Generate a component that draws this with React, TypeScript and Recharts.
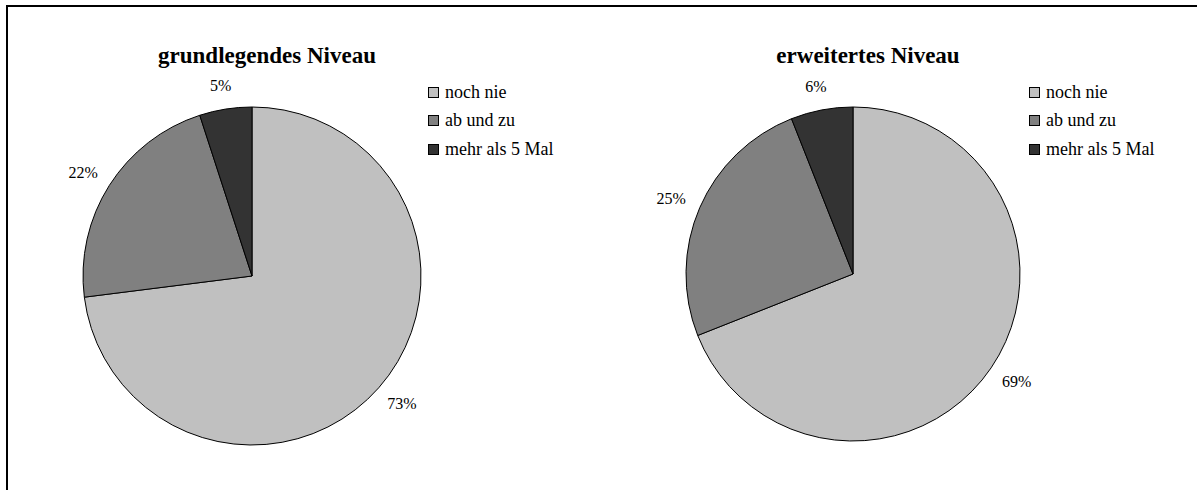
import { Cell, Legend, Pie, PieChart } from "recharts";

const categories = ["noch nie", "ab und zu", "mehr als 5 Mal"];
const basicValues = [73, 22, 5];
const advancedValues = [69, 25, 6];
const titles = ["grundlegendes Niveau", "erweitertes Niveau"];

const FILLS = ["#c0c0c0", "#808080", "#333333"];
const FONT = "'Liberation Serif', 'DejaVu Serif', serif";
const RAD = Math.PI / 180;

const toRows = (values: number[]) =>
  categories.map((name, i) => ({ name, value: values[i] }));

// outside-end labels, nudged away from the pie by half the text box
function renderLabel(props: any) {
  const { cx, cy, midAngle, outerRadius, value } = props;
  const dx = Math.cos(-midAngle * RAD);
  const dy = Math.sin(-midAngle * RAD);
  const r = outerRadius + 15;
  const x = cx + dx * r + dx * 16;
  const y = cy + dy * r + dy * 9;
  return (
    <text
      x={x}
      y={y}
      textAnchor="middle"
      dominantBaseline="central"
      fill="#000"
      fontFamily={FONT}
      fontSize={16}
    >
      {`${value}%`}
    </text>
  );
}

// keep the legend in data order (recharts sorts it by name otherwise)
function LegendBox({ payload }: any) {
  const items = [...(payload ?? [])].sort(
    (a: any, b: any) => categories.indexOf(a.value) - categories.indexOf(b.value)
  );
  return (
    <div style={{ fontFamily: FONT, fontSize: 18, color: "#000" }}>
      {items.map((entry: any) => (
        <div key={entry.value} style={{ display: "flex", alignItems: "center", height: 28.5 }}>
          <span
            style={{
              display: "inline-block",
              width: 9,
              height: 9,
              background: entry.color,
              border: "1px solid #000",
              marginRight: 6,
            }}
          />
          <span>{entry.value}</span>
        </div>
      ))}
    </div>
  );
}

function LevelPie({ title, values, cy, radius }: { title: string; values: number[]; cy: number; radius: number }) {
  return (
    <div style={{ position: "relative", width: 600, height: 490 }}>
      <div
        style={{
          position: "absolute",
          left: 0,
          width: 534,
          top: 43,
          textAlign: "center",
          fontFamily: FONT,
          fontWeight: "bold",
          fontSize: 23,
        }}
      >
        {title}
      </div>
      <PieChart
        width={600}
        height={490}
        margin={{ top: 0, right: 0, bottom: 0, left: 0 }}
        style={{ position: "absolute", left: 0, top: 0 }}
      >
        <Pie
          data={toRows(values)}
          dataKey="value"
          nameKey="name"
          cx={252}
          cy={cy}
          outerRadius={radius}
          startAngle={90}
          endAngle={-270}
          stroke="#000"
          strokeWidth={1}
          label={renderLabel}
          labelLine={false}
          isAnimationActive={false}
        >
          {values.map((_, i) => (
            <Cell key={i} fill={FILLS[i]} />
          ))}
        </Pie>
        <Legend
          layout="vertical"
          content={<LegendBox />}
          wrapperStyle={{ left: 428, top: 78, width: 170 }}
        />
      </PieChart>
    </div>
  );
}

export default function App() {
  return (
    <div
      style={{
        position: "absolute",
        left: 0,
        top: 0,
        width: 1197,
        height: 490,
        overflow: "hidden",
        background: "#fff",
      }}
    >
      {/* frame: only the top and left edges fall inside the picture */}
      <div style={{ position: "absolute", left: 6, top: 5, width: 1191, height: 2, background: "#000" }} />
      <div style={{ position: "absolute", left: 6, top: 5, width: 2, height: 485, background: "#000" }} />
      <div style={{ position: "absolute", left: 0, top: 0 }}>
        <LevelPie title={titles[0]} values={basicValues} cy={276} radius={169} />
      </div>
      <div style={{ position: "absolute", left: 601, top: 0 }}>
        <LevelPie title={titles[1]} values={advancedValues} cy={274} radius={167} />
      </div>
    </div>
  );
}
